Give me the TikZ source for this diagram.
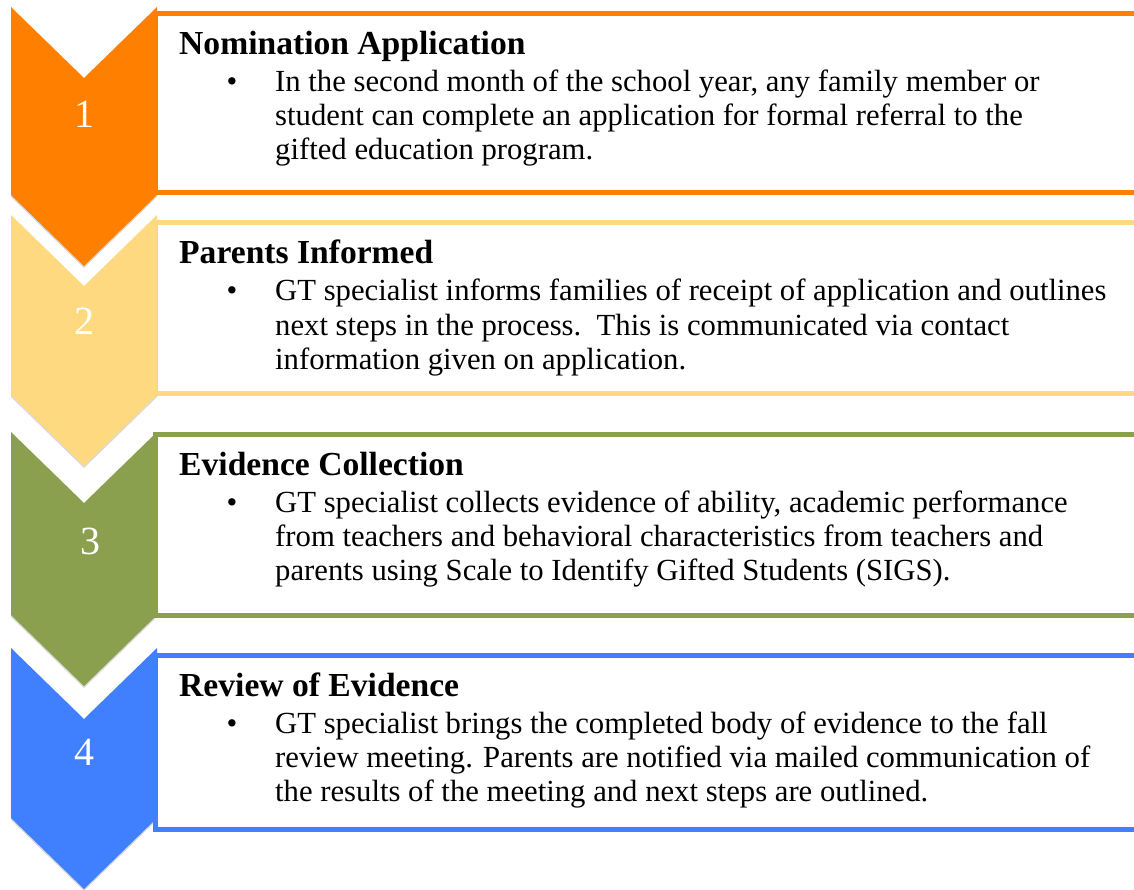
\documentclass[tikz,border=0pt]{standalone}
\usepackage{fontspec}
\setmainfont{Liberation Serif}
\usetikzlibrary{shadows}

\definecolor{stepOrange}{RGB}{255,128,0}
\definecolor{stepYellow}{RGB}{255,217,128}
\definecolor{stepGreen}{RGB}{139,160,78}
\definecolor{stepBlue}{RGB}{64,128,255}

\tikzset{
  chev/.style={fill=#1, draw=none, drop shadow={opacity=0.3, shadow xshift=0pt, shadow yshift=-2pt}},
  stepbox/.style={draw=#1, line width=5pt, fill=white},
  num/.style={text=white, font=\fontsize{40}{48}\selectfont, inner sep=0pt},
  head/.style={anchor=base west, inner sep=0pt, font=\fontsize{33.6}{38}\selectfont\bfseries},
  body/.style={anchor=base west, inner sep=0pt, font=\fontsize{30.7}{36}\selectfont},
  bul/.style={anchor=base, inner sep=0pt, font=\fontsize{30.7}{36}\selectfont}
}

\begin{document}
\begin{tikzpicture}[x=1pt, y=-1pt]

\useasboundingbox (0,0) rectangle (1134,890);

\draw [stepbox=stepOrange] (155,14) rectangle (1145,193);
\draw [stepbox=stepYellow] (155,223) rectangle (1145,393);
\draw [stepbox=stepGreen] (155,434) rectangle (1145,615);
\draw [stepbox=stepBlue] (155,655) rectangle (1145,829);

\path [chev=stepOrange] (11,7) -- (84,78) -- (157,7) -- (157,195) -- (84,266) -- (11,195) -- cycle;
\path [chev=stepYellow] (11,215) -- (84,286) -- (157,215) -- (157,395) -- (84,466) -- (11,395) -- cycle;
\path [chev=stepGreen] (11,432) -- (84,503) -- (157,432) -- (157,615) -- (84,686) -- (11,615) -- cycle;
\path [chev=stepBlue] (11,648) -- (84,719) -- (157,648) -- (157,818) -- (84,889) -- (11,818) -- cycle;

\node [num] (n1) at (84,114) {1};
\node [num] (n2) at (84,321) {2};
\node [num] (n3) at (90,541) {3};
\node [num] (n4) at (84,752) {4};

\node [head] (h1) at (179,55) {Nomination Application};
\node [bul] (d1) at (232,92) {\textbullet};
\node [body] (l1a) at (275,92) {In the second month of the school year, any family member or};
\node [body] (l1b) at (275,126) {student can complete an application for formal referral to the};
\node [body] (l1c) at (275,160) {gifted education program.};

\node [head] (h2) at (179,264) {Parents Informed};
\node [bul] (d2) at (232,301) {\textbullet};
\node [body] (l2a) at (275,301) {GT specialist informs families of receipt of application and outlines};
\node [body] (l2b) at (275,335) {next steps in the process.\ \ This is communicated via contact};
\node [body] (l2c) at (275,369) {information given on application.};

\node [head] (h3) at (179,475) {Evidence Collection};
\node [bul] (d3) at (232,512) {\textbullet};
\node [body] (l3a) at (275,512) {GT specialist collects evidence of ability, academic performance};
\node [body] (l3b) at (275,546) {from teachers and behavioral characteristics from teachers and};
\node [body] (l3c) at (275,580) {parents using Scale to Identify Gifted Students (SIGS).};

\node [head] (h4) at (179,696) {Review of Evidence};
\node [bul] (d4) at (232,733) {\textbullet};
\node [body] (l4a) at (275,733) {GT specialist brings the completed body of evidence to the fall};
\node [body] (l4b) at (275,767) {review meeting. Parents are notified via mailed communication of};
\node [body] (l4c) at (275,801) {the results of the meeting and next steps are outlined.};

\end{tikzpicture}
\end{document}
